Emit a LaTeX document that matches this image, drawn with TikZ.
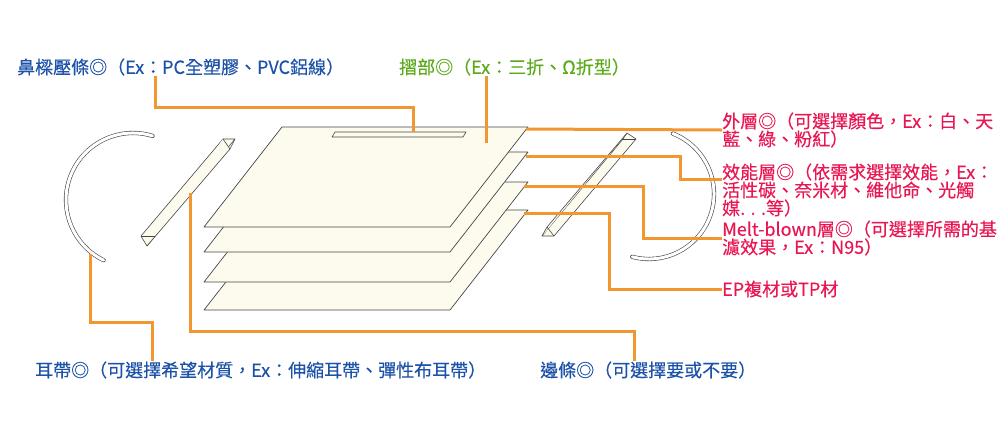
\documentclass[tikz,border=0pt]{standalone}
\usepackage{fontspec}
\newfontfamily\cjkfont[FakeBold=0.3]{Noto Sans CJK TC}
\definecolor{cream}{RGB}{253,251,238}
\definecolor{edgegray}{RGB}{70,70,70}
\definecolor{leadorange}{RGB}{242,150,48}
\definecolor{tagblue}{RGB}{28,82,168}
\definecolor{taggreen}{RGB}{90,170,25}
\definecolor{tagred}{RGB}{232,22,82}
\tikzstyle{layer}=[fill=cream,draw=edgegray,line width=0.7pt,line join=round]
\tikzstyle{strip}=[fill=cream,draw=edgegray,line width=0.6pt,line join=round]
\tikzstyle{earloop}=[draw=edgegray,double=white,double distance=3pt,line width=0.6pt,line cap=round]
\tikzstyle{lead}=[draw=leadorange,line width=3pt]
\tikzstyle{tag}=[anchor=west,inner sep=0pt,align=left,font={\cjkfont\fontsize{18}{18}\selectfont}]

\begin{document}
\begin{tikzpicture}[x=1pt,y=1pt,yscale=-1]
\useasboundingbox (0,0) rectangle (1000,426);
% ear loops
\draw[earloop] (133,200) ++(-73:67pt) arc[start angle=-73, end angle=-244, radius=67pt];
\draw[earloop] (649,194) ++(-68.5:65pt) arc[start angle=-68.5, end angle=105, radius=65pt];
\coordinate (earTop) at (90,254);
% edge strips
\draw[strip] (223,139) -- (235,139) -- (155,236) -- (147,246) -- (141,236) -- cycle;
\draw[strip] (223,139) -- (230,149) -- (147,246);
\draw[strip] (235,139) -- (230,149);
\draw[strip] (141,236) -- (155,236);
\draw[strip] (627,133) -- (636,139) -- (554,236) -- (542,236) -- (623,139) -- cycle;
\draw[strip] (623,139) -- (636,139);
\draw[strip] (627,133) -- (547,227) -- (542,236);
\draw[strip] (547,227) -- (554,236);
\coordinate (stripLow) at (190,193);
% layers
\draw[layer] (282,210) -- (528,210) -- (450,310) -- (204,310) -- cycle;
\draw[layer] (282,182) -- (528,182) -- (450,282) -- (204,282) -- cycle;
\draw[layer] (282,152) -- (528,152) -- (450,252) -- (204,252) -- cycle;
\draw[layer] (282,127) -- (528,127) -- (450,227) -- (204,227) -- cycle;
\draw[strip] (335,132) -- (466,132) -- (463,137) -- (332,137) -- cycle;
\coordinate (noseEnd) at (413,132);
\coordinate (foldEnd) at (486,143);
\coordinate (L1) at (526,129);
\coordinate (L2) at (526,156);
\coordinate (L3) at (524,186);
\coordinate (L4) at (524,213);
% labels
\node[tag,text=tagblue] (nose) at (17,67) {鼻樑壓條◎（Ex：PC全塑膠、PVC鋁線）};
\node[tag,text=taggreen] (fold) at (399,67) {摺部◎（Ex：三折、Ω折型）};
\node[tag,text=tagred] (outer) at (722,130) {外層◎（可選擇顏色，Ex：白、天\\藍、綠、粉紅）};
\node[tag,text=tagred] (eff) at (722,190) {效能層◎（依需求選擇效能，Ex：\\活性碳、奈米材、維他命、光觸\\媒. . .等）};
\node[tag,text=tagred] (melt) at (722,238) {Melt-blown層◎（可選擇所需的基\\濾效果，Ex：N95）};
\node[tag,text=tagred] (ep) at (722,289) {EP複材或TP材};
\node[tag,text=tagblue] (ear) at (35,370) {耳帶◎（可選擇希望材質，Ex：伸縮耳帶、彈性布耳帶）};
\node[tag,text=tagblue] (edge) at (540,370) {邊條◎（可選擇要或不要）};
\coordinate (effEnd) at (722,179);
% leader lines
\draw[lead] (nose.south -| 155,0) -- ++(0,32) -| (noseEnd);
\draw[lead] (fold.south -| foldEnd) -- (foldEnd);
\draw[lead] (L1) -- (outer.west);
\draw[lead] (L2) -- ++(154,0) |- (effEnd);
\draw[lead] (L3) -- ++(119,0) |- (melt.west);
\draw[lead] (L4) -- ++(85,0) |- (ep.west);
\draw[lead] (earTop) -- ++(0,68) -| (ear.north -| 152,0);
\draw[lead] (stripLow) -- ++(0,138) -| (edge.north -| 634,0);
\end{tikzpicture}
\end{document}
